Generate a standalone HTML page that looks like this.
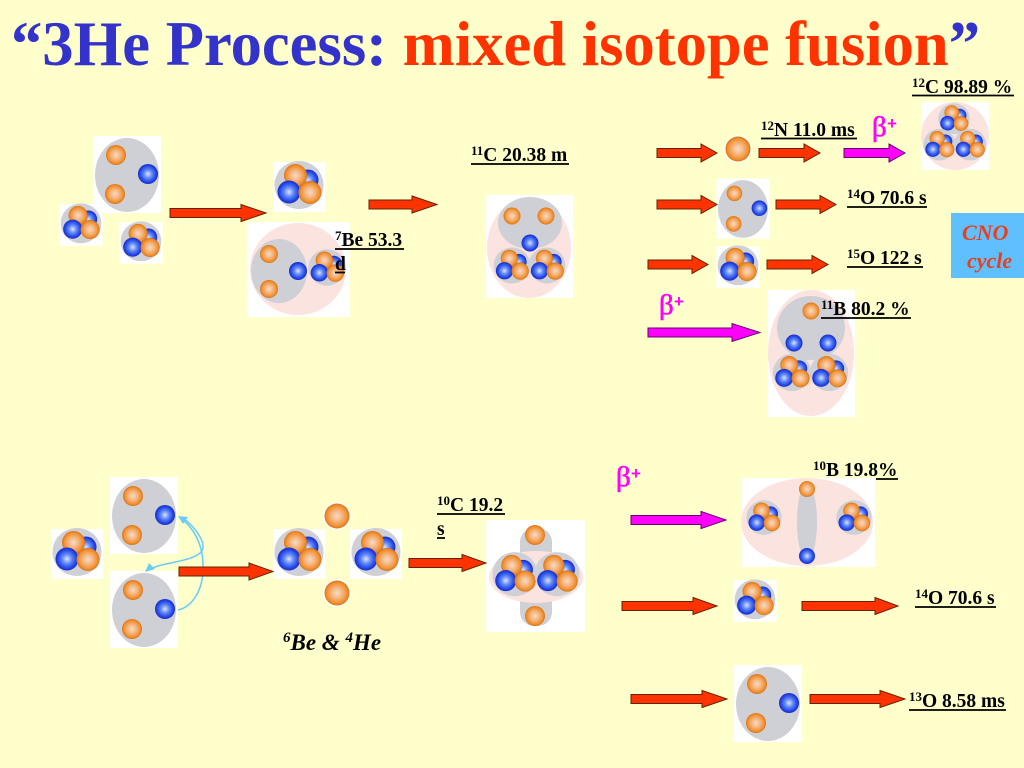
<!DOCTYPE html>
<html><head><meta charset="utf-8"><title>3He Process</title>
<style>
html,body{margin:0;padding:0;background:#ffffcc;width:1024px;height:768px;overflow:hidden}
svg{display:block}
.o{fill:url(#og)}
.b{fill:url(#bg)}
.gy{fill:#cfcfd6}
.pk{fill:#fbe3df}
.w{fill:#fff}
.ar{fill:#ff3300;stroke:#662200;stroke-width:1}
.mg{fill:#ff00ff;stroke:#660066;stroke-width:1}
.t{font-family:"Liberation Serif",serif;font-weight:bold;font-size:19.5px;fill:#000}
.s{font-size:13px}
.u{stroke:#000;stroke-width:1.8}
.be{font-family:"Liberation Serif",serif;font-size:29px;fill:#ff00ff;stroke:#ff00ff;stroke-width:.6}
.bp{font-family:"Liberation Sans",sans-serif;font-weight:bold;font-size:17px;fill:#ff00ff}
</style></head>
<body>
<svg xmlns="http://www.w3.org/2000/svg" width="1024" height="768" viewBox="0 0 1024 768">
<defs>
<radialGradient id="og" cx="50%" cy="50%" r="50%">
<stop offset="0" stop-color="#f4dccb"/><stop offset=".45" stop-color="#f6b47c"/><stop offset=".82" stop-color="#f09030"/><stop offset="1" stop-color="#dc7414"/>
</radialGradient>
<radialGradient id="bg" cx="50%" cy="50%" r="50%">
<stop offset="0" stop-color="#dce3ff"/><stop offset=".42" stop-color="#6088f6"/><stop offset=".8" stop-color="#2448ea"/><stop offset="1" stop-color="#1a2cc0"/>
</radialGradient>
<g id="a">
<ellipse class="gy" cx="0" cy="-2" rx="24.5" ry="24"/>
<circle class="b" cx="9" cy="-7" r="10.5"/>
<circle class="o" cx="-3.5" cy="-11.5" r="11.5"/>
<circle class="b" cx="-10" cy="5" r="11.5"/>
<circle class="o" cx="11" cy="5.5" r="11.5"/>
</g>
<g id="h">
<ellipse class="gy" cx="0" cy="0" rx="32" ry="37"/>
<circle class="o" cx="-11" cy="-20" r="10"/>
<circle class="o" cx="-12" cy="19" r="10"/>
<circle class="b" cx="21" cy="-1" r="10"/>
</g>
<g id="wa"><rect class="w" x="-26" y="-25" width="52" height="50"/><use href="#a"/></g>
<g id="wh"><rect class="w" x="-34" y="-39" width="68" height="77"/><use href="#h"/></g>
</defs>
<rect width="1024" height="768" fill="#ffffcc"/>

<!-- Title -->
<text x="11" y="65" font-family="'Liberation Serif',serif" font-weight="bold" font-size="64" textLength="969" lengthAdjust="spacingAndGlyphs"><tspan fill="#3333cc">“3He Process: </tspan><tspan fill="#ff3300">mixed isotope fusion</tspan><tspan fill="#3333cc">”</tspan></text>

<!-- Top-left cluster -->
<use href="#wh" transform="translate(127,175)"/>
<use href="#wa" transform="translate(81,225) scale(.83)"/>
<use href="#wa" transform="translate(141,243) scale(.83)"/>
<use href="#wa" transform="translate(299,187)"/>

<!-- 7Be -->
<rect class="w" x="247" y="222" width="103" height="95"/>
<ellipse class="pk" cx="298" cy="269" rx="48" ry="46"/>
<ellipse class="gy" cx="279" cy="271" rx="28" ry="32"/>
<circle class="o" cx="269" cy="254" r="9"/>
<circle class="o" cx="269" cy="289" r="9"/>
<circle class="b" cx="298" cy="271" r="9"/>
<use href="#a" transform="translate(327,269) scale(.76)"/>

<!-- 11C -->
<rect class="w" x="486" y="195" width="87" height="103"/>
<ellipse class="pk" cx="529" cy="248" rx="42" ry="50"/>
<ellipse class="gy" cx="530" cy="223" rx="32" ry="26"/>
<circle class="o" cx="512" cy="216" r="8.5"/>
<circle class="o" cx="546" cy="216" r="8.5"/>
<circle class="b" cx="530" cy="243" r="8.5"/>
<use href="#a" transform="translate(512,267) scale(.75)"/>
<use href="#a" transform="translate(547,267) scale(.75)"/>

<!-- right column top -->
<circle class="w" cx="738" cy="149" r="14"/>
<circle class="o" cx="738" cy="149" r="12.5"/>
<use href="#wh" transform="translate(743,209) scale(.78)"/>
<use href="#wa" transform="translate(738,267) scale(.83)"/>

<!-- 12C -->
<rect class="w" x="921" y="102" width="68" height="68"/>
<circle class="pk" cx="955" cy="136" r="34"/>
<use href="#a" transform="translate(954,120) scale(.64)"/>
<use href="#a" transform="translate(939.5,146) scale(.66)"/>
<use href="#a" transform="translate(970,146) scale(.66)"/>

<!-- 11B -->
<rect class="w" x="768" y="290" width="87" height="127"/>
<ellipse class="pk" cx="811" cy="353" rx="43" ry="63"/>
<ellipse class="gy" cx="811" cy="328" rx="34" ry="32"/>
<circle class="o" cx="811" cy="311" r="8.5"/>
<circle class="b" cx="794" cy="343" r="8.5"/>
<circle class="b" cx="828" cy="343" r="8.5"/>
<use href="#a" transform="translate(792,374) scale(.78)"/>
<use href="#a" transform="translate(829,374) scale(.78)"/>

<!-- bottom-left -->
<use href="#wa" transform="translate(77,554)"/>
<use href="#wh" transform="translate(144,516)"/>
<use href="#wh" transform="translate(144,610)"/>
<use href="#wa" transform="translate(299,554)"/>
<use href="#wa" transform="translate(376,554)"/>
<circle class="w" cx="337" cy="516" r="14"/>
<circle class="o" cx="337" cy="516" r="12.5"/>
<circle class="w" cx="337" cy="593" r="14"/>
<circle class="o" cx="337" cy="593" r="12.5"/>

<!-- curved arrows -->
<path d="M178,610 C192,607 204,590 203,565 C203,545 194,529 183,520" fill="none" stroke="#66ccf8" stroke-width="1.5"/>
<polygon points="178,516 188,517 183,524" fill="#66ccf8"/>
<path d="M183,518 C195,527 204,540 203,548 C201,560 170,562 158,566 C154,567 151,569 149,570" fill="none" stroke="#66ccf8" stroke-width="1.5"/>
<polygon points="145,572 149,563 155,569" fill="#66ccf8"/>

<!-- 10C -->
<rect class="w" x="486" y="520" width="99" height="112"/>
<rect class="gy" x="520" y="528" width="32" height="98" rx="14"/>
<ellipse class="pk" cx="536" cy="577" rx="47" ry="26"/>
<use href="#a" transform="translate(515,576) scale(.92)"/>
<use href="#a" transform="translate(557,576) scale(.92)"/>
<circle class="o" cx="535" cy="535" r="10"/>
<circle class="o" cx="535" cy="616" r="10"/>

<!-- 10B -->
<rect class="w" x="742" y="478" width="133" height="89"/>
<ellipse class="pk" cx="807" cy="522" rx="66" ry="44"/>
<ellipse class="gy" cx="807" cy="522" rx="10" ry="38"/>
<circle class="o" cx="807" cy="489" r="8"/>
<circle class="b" cx="807" cy="556" r="8"/>
<use href="#a" transform="translate(764,519) scale(.72)"/>
<use href="#a" transform="translate(854,519) scale(.72)"/>

<use href="#wa" transform="translate(755,601) scale(.83)"/>
<use href="#wh" transform="translate(768,704)"/>

<!-- Arrows -->
<polygon class="ar" points="170,208.5 241,208.5 241,204.5 266,213 241,221.5 241,217.5 170,217.5"/>
<polygon class="ar" points="369,200 412,200 412,196 437,204.5 412,213 412,209 369,209"/>
<polygon class="ar" points="657,148.5 701,148.5 701,144 717,153 701,162 701,157.5 657,157.5"/>
<polygon class="ar" points="759,148.5 804,148.5 804,144 820,153 804,162 804,157.5 759,157.5"/>
<polygon class="ar" points="657,200 701,200 701,195.5 717,204.5 701,213.5 701,209 657,209"/>
<polygon class="ar" points="776,200 820,200 820,195.5 836,204.5 820,213.5 820,209 776,209"/>
<polygon class="ar" points="648,260 692,260 692,255.5 708,264.5 692,273.5 692,269 648,269"/>
<polygon class="ar" points="767,260 812,260 812,255.5 828,264.5 812,273.5 812,269 767,269"/>
<polygon class="mg" points="844,148.5 889,148.5 889,144 905,153 889,162 889,157.5 844,157.5"/>
<polygon class="mg" points="648,328 732,328 732,323.5 760,332.5 732,341.5 732,337 648,337"/>
<polygon class="ar" points="179,567 249,567 249,563 273,571.5 249,580 249,576 179,576"/>
<polygon class="ar" points="409,558.5 462,558.5 462,554.5 486,563 462,571.5 462,567.5 409,567.5"/>
<polygon class="mg" points="631,515.5 701,515.5 701,511.5 726,520 701,528.5 701,524.5 631,524.5"/>
<polygon class="ar" points="622,601.5 693,601.5 693,597.5 717,606 693,614.5 693,610.5 622,610.5"/>
<polygon class="ar" points="802,601.5 875,601.5 875,597.5 898,606 875,614.5 875,610.5 802,610.5"/>
<polygon class="ar" points="631,694.5 702,694.5 702,690.5 727,699 702,707.5 702,703.5 631,703.5"/>
<polygon class="ar" points="810,694.5 880,694.5 880,690.5 905,699 880,707.5 880,703.5 810,703.5"/>

<!-- Beta labels -->
<text class="be" x="872" y="136">β</text><text class="bp" x="887" y="129">+</text>
<text class="be" x="659" y="314">β</text><text class="bp" x="674" y="307">+</text>
<text class="be" x="616" y="486">β</text><text class="bp" x="631" y="479">+</text>

<!-- Labels -->
<text class="t" x="912" y="93"><tspan class="s" dy="-6">12</tspan><tspan dy="6">C 98.89 %</tspan></text><line class="u" x1="912" y1="95.5" x2="1014" y2="95.5"/>
<text class="t" x="761" y="136"><tspan class="s" dy="-6">12</tspan><tspan dy="6">N 11.0 ms</tspan></text><line class="u" x1="761" y1="138.5" x2="857" y2="138.5"/>
<text class="t" x="847" y="204"><tspan class="s" dy="-6">14</tspan><tspan dy="6">O 70.6 s</tspan></text><line class="u" x1="847" y1="207" x2="927" y2="207"/>
<text class="t" x="847" y="264"><tspan class="s" dy="-6">15</tspan><tspan dy="6">O 122 s</tspan></text><line class="u" x1="847" y1="267" x2="923" y2="267"/>
<text class="t" x="821" y="315"><tspan class="s" dy="-6">11</tspan><tspan dy="6">B 80.2 %</tspan></text><line class="u" x1="821" y1="318" x2="911" y2="318"/>
<text class="t" x="471" y="161"><tspan class="s" dy="-6">11</tspan><tspan dy="6">C 20.38 m</tspan></text><line class="u" x1="471" y1="164" x2="569" y2="164"/>
<text class="t" x="335" y="246"><tspan class="s" dy="-6">7</tspan><tspan dy="6">Be 53.3</tspan></text><line class="u" x1="335" y1="249" x2="404" y2="249"/>
<text class="t" x="335" y="270">d</text><line class="u" x1="335" y1="272.5" x2="345" y2="272.5"/>
<text class="t" x="437" y="511"><tspan class="s" dy="-6">10</tspan><tspan dy="6">C 19.2</tspan></text><line class="u" x1="437" y1="514" x2="505" y2="514"/>
<text class="t" x="437" y="535">s</text><line class="u" x1="437" y1="538" x2="445" y2="538"/>
<text class="t" x="813" y="476"><tspan class="s" dy="-6">10</tspan><tspan dy="6">B 19.8%</tspan></text><line class="u" x1="876" y1="479" x2="898" y2="479"/>
<text class="t" x="915" y="604"><tspan class="s" dy="-6">14</tspan><tspan dy="6">O 70.6 s</tspan></text><line class="u" x1="915" y1="607" x2="996" y2="607"/>
<text class="t" x="909" y="707"><tspan class="s" dy="-6">13</tspan><tspan dy="6">O 8.58 ms</tspan></text><line class="u" x1="909" y1="710" x2="1006" y2="710"/>

<text x="283" y="650" font-family="'Liberation Serif',serif" font-weight="bold" font-style="italic" font-size="23" fill="#000"><tspan font-size="15" dy="-8">6</tspan><tspan dy="8">Be &amp; </tspan><tspan font-size="15" dy="-8">4</tspan><tspan dy="8">He</tspan></text>

<!-- CNO -->
<rect x="951" y="213" width="73" height="65" fill="#5fbfff"/>
<text x="962" y="240" font-family="'Liberation Serif',serif" font-weight="bold" font-style="italic" font-size="22" fill="#e8401c">CNO</text>
<text x="967" y="268" font-family="'Liberation Serif',serif" font-weight="bold" font-style="italic" font-size="22" fill="#e8401c">cycle</text>
</svg>
</body></html>
